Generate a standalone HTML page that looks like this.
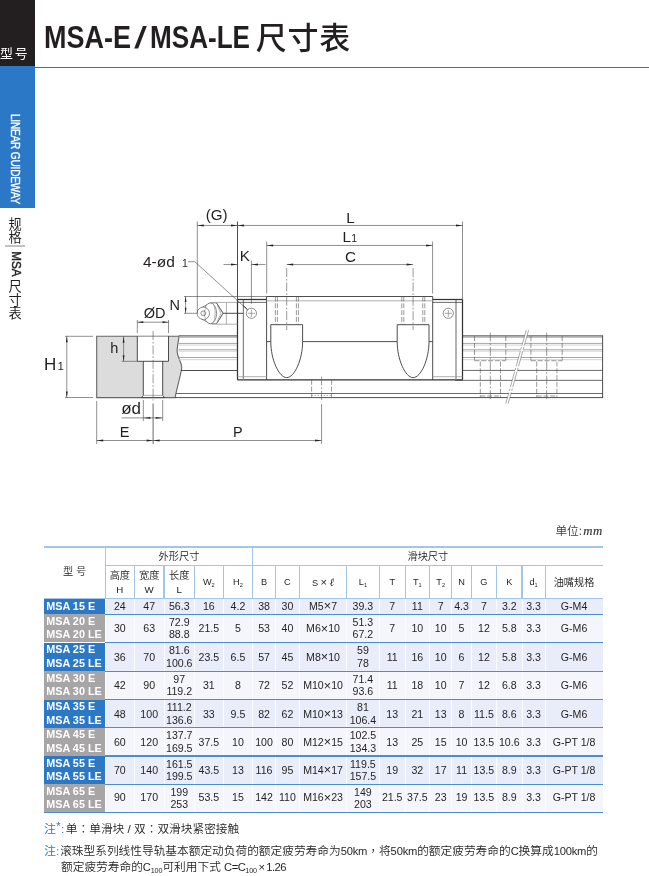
<!DOCTYPE html>
<html lang="zh-CN"><head><meta charset="utf-8"><title>MSA-E / MSA-LE 尺寸表</title>
<style>
html,body{margin:0;padding:0;background:#fff;}
body{width:649px;height:876px;position:relative;overflow:hidden;font-family:"Liberation Sans","Noto Sans CJK SC",sans-serif;color:#231f20;}
.abs{position:absolute;}
#sb-black{left:0;top:0;width:34.6px;height:66.4px;background:#231f20;}
#sb-blue{left:0;top:66.4px;width:34.6px;height:142.0px;background:#2b78c7;}
#rule{left:34px;top:66.5px;width:615px;height:1.7px;background:#2b78c7;}
#xh{left:0.1px;top:44.2px;color:#fff;font-size:12.9px;letter-spacing:1.7px;font-family:"Noto Sans CJK SC",sans-serif;line-height:18px;white-space:nowrap;}
#lg{left:15px;top:158.8px;width:0;height:0;}
#lg span{position:absolute;left:-60px;top:-8px;width:120px;height:16px;line-height:16px;text-align:center;color:#fff;font-size:12px;font-weight:normal;-webkit-text-stroke:0.35px #fff;white-space:nowrap;transform:rotate(90deg) scaleX(0.838);letter-spacing:-0.2px;}
#title{left:43.5px;top:15.6px;height:44px;line-height:44px;white-space:nowrap;font-size:30.8px;}
#title span{position:absolute;top:0;display:block;font-weight:bold;transform-origin:0 50%;}
#title .t1{left:0;transform:scaleX(0.876);}
#title .t2{left:92.6px;transform:scaleX(1.1) skewX(-9deg);font-weight:bold;font-size:30.5px;top:-0.8px;}
#title .t3{left:106px;transform:scaleX(0.847);}
#title .cjk{left:212.3px;top:-2.0px;font-family:"Noto Sans CJK SC",sans-serif;font-weight:500;font-size:31px;letter-spacing:0.7px;}
.vt{font-family:"Noto Sans CJK SC",sans-serif;font-size:13px;line-height:13.1px;width:14px;text-align:center;left:8px;color:#231f20;}
#vline{left:4.8px;top:245.45px;width:20.5px;height:1.2px;background:#c2c2c2;}
#msa{left:15.6px;top:263.8px;width:0;height:0;}
#msa span{position:absolute;left:-20px;top:-8px;width:40px;height:16px;line-height:16px;text-align:center;font-size:13px;font-weight:normal;-webkit-text-stroke:0.45px #231f20;transform:rotate(90deg) scaleX(0.9);}
svg text{font-family:"Liberation Sans",sans-serif;fill:#231f20;}
.k{stroke:#3a3a3a;stroke-width:0.9;}
.t2{stroke:#3a3a3a;stroke-width:0.75;}
.g3{stroke:#8a8a8a;stroke-width:1.3;}
.r0{stroke:#666;stroke-width:1.1;}
.r1{stroke:#9c9c9c;stroke-width:0.9;}
.r2{stroke:#cfcfcf;stroke-width:0.9;}
.kk{stroke:#333;stroke-width:1.25;}
.t{stroke:#444;stroke-width:0.6;}
.g{stroke:#9c9c9c;stroke-width:0.8;}
.d{stroke:#555;stroke-width:0.6;stroke-dasharray:5 1.8;}
.c{stroke:#555;stroke-width:0.6;stroke-dasharray:9 1.8 1.8 1.8;}
.ch{stroke:#555;stroke-width:0.5;}
.bl{stroke:#555;stroke-width:0.5;stroke-dasharray:16 1.5 2.5 1.5;}
.dd{stroke:#777;stroke-width:0.6;stroke-dasharray:1.5 1.5;}
.c2{stroke:#555;stroke-width:0.6;stroke-dasharray:12 1.8 1.8 1.8;}
.a{fill:#222;stroke:none;}
.gb{fill:#dcdcdc;stroke:#666;stroke-width:1.1;}
#unit{right:46.2px;top:520.8px;font-weight:350;font-size:11.7px;line-height:18px;font-family:"Noto Sans CJK SC",sans-serif;color:#3a3a3a;white-space:nowrap;}
#unit i{font-family:"Liberation Serif",serif;font-size:12.8px;letter-spacing:0.5px;font-weight:normal;-webkit-text-stroke:0.18px #333;margin-left:-1.2px;}
#tbl div{position:absolute;box-sizing:border-box;}
.ln.lb{background:#a3c5ea;}
.ln.lb2{background:#4a8dd2;}
.ln.lw{background:#fbfcff;}
.hc{text-align:center;font-size:9.2px;color:#231f20;white-space:nowrap;}
.hc.cj{font-family:"Liberation Sans","Noto Sans CJK SC",sans-serif;font-size:10.2px;font-weight:350;color:#1a1a1a;}
.hc.h2{line-height:14.6px;padding-top:3.2px;}
.hc i{font-style:normal;font-size:9.7px;}
.hc em{font-family:"Liberation Serif",serif;font-style:italic;font-size:11px;}
.hc sub{font-size:5.6px;vertical-align:-1.8px;line-height:0;}
.rb{background:#e8edf9;}
.rg{background:#f5f6fb;}
.nm{color:#fff;font-weight:bold;font-size:10.8px;line-height:13.4px;padding-left:2.6px;white-space:nowrap;display:flex;align-items:center;}
.nb{background:#2b78c7;}
.ng{background:#a7a5a6;}
.dc{text-align:center;font-size:10.6px;white-space:nowrap;color:#231f20;}
.dc .x{font-size:12.6px;line-height:0;position:relative;top:0.4px;}
.dc.two{line-height:12.6px;display:flex;align-items:center;justify-content:center;}
.note{font-family:"Liberation Sans","Noto Sans CJK SC",sans-serif;font-size:11.7px;line-height:16.6px;white-space:nowrap;color:#231f20;font-weight:350;}
.note .tc{font-family:"Noto Sans CJK TC","Noto Sans CJK JP",sans-serif;}
.note .la{font-weight:normal;letter-spacing:-0.2px;font-size:11.2px;}
.note .lb3{letter-spacing:-0.5px;word-spacing:-1px;}
.note .g1{display:inline-block;width:1.6px;}
.note .g2{display:inline-block;width:1px;}
.note b{font-weight:normal;color:#2b78c7;}
.note sub{font-size:7.2px;vertical-align:-2.4px;line-height:0;font-weight:normal;letter-spacing:-0.1px;}
.note sup{font-size:11px;vertical-align:3px;margin:0 0.4px;line-height:0;color:#2b78c7;font-weight:normal;}
#wrap{position:absolute;left:0;top:0;width:649px;height:876px;will-change:transform;}
</style></head><body>
<div id="wrap">
<div class="abs" id="sb-black"></div>
<div class="abs" id="sb-blue"></div>
<div class="abs" id="rule"></div>
<div class="abs" id="xh">型号</div>
<div class="abs" id="lg"><span>LINEAR GUIDEWAY</span></div>
<div class="abs" id="title"><span class="t1">MSA-E</span><span class="t2">/</span><span class="t3">MSA-LE</span><span class="cjk">尺寸表</span></div>
<div class="abs vt" style="top:217.0px;line-height:13.3px;font-size:13.2px;">规<br>格</div>
<div class="abs" id="vline"></div>
<div class="abs" id="msa"><span>MSA</span></div>
<div class="abs vt" style="top:279.0px;line-height:13.5px;font-size:13.2px;">尺<br>寸<br>表</div>
<svg class="abs" style="left:0;top:0" width="649" height="876" viewBox="0 0 649 876">
<path class="gb" d="M96.7,336.2 L179,336.2 C178.5,342 176.8,347 177.2,352 C177.6,358 181.5,362 181.8,367.3 C181.5,372 177,388 175,397.6 L96.7,397.6 Z"/>
<rect x="137.3" y="336.7" width="31.2" height="24.600000000000023" fill="#fff"/>
<path d="M143.3,361.3 L162.7,361.3 L162.7,395.4 L164.7,397.6 L141.4,397.6 L143.3,395.4 Z" fill="#fff"/>
<path class="k" fill="none" d="M137.3,336.2 L137.3,361.3 L168.5,361.3 L168.5,336.2"/>
<path class="k" fill="none" d="M143.3,361.3 L143.3,395.4 L141.4,397.6 M162.7,361.3 L162.7,395.4 L164.7,397.6"/>
<line class="g" x1="143.3" y1="395.4" x2="162.7" y2="395.4"/>
<line class="k" x1="141.4" y1="397.6" x2="164.7" y2="397.6"/>
<line class="r0" x1="178.6" y1="335.9" x2="237.5" y2="335.9"/>
<line class="r1" x1="178.6" y1="337.2" x2="237.5" y2="337.2"/>
<line class="r1" x1="178.6" y1="343.4" x2="237.5" y2="343.4"/>
<line class="r2" x1="178.6" y1="345.1" x2="237.5" y2="345.1"/>
<line class="r1" x1="178.6" y1="349.75" x2="237.5" y2="349.75"/>
<line class="r2" x1="178.6" y1="351.2" x2="237.5" y2="351.2"/>
<line class="r1" x1="178.6" y1="357.5" x2="237.5" y2="357.5"/>
<line class="r2" x1="178.6" y1="359.7" x2="237.5" y2="359.7"/>
<line class="k" x1="181" y1="370.5" x2="237.5" y2="370.5"/>
<line class="t2" x1="176" y1="393.5" x2="602.6" y2="393.5"/>
<line class="k" x1="175" y1="397.6" x2="602.6" y2="397.6"/>
<line class="r0" x1="462.5" y1="335.9" x2="602.6" y2="335.9"/>
<line class="r1" x1="462.5" y1="337.2" x2="602.6" y2="337.2"/>
<line class="r1" x1="462.5" y1="343.4" x2="602.6" y2="343.4"/>
<line class="r2" x1="462.5" y1="345.1" x2="602.6" y2="345.1"/>
<line class="r1" x1="462.5" y1="349.75" x2="602.6" y2="349.75"/>
<line class="r2" x1="462.5" y1="351.2" x2="602.6" y2="351.2"/>
<line class="r1" x1="462.5" y1="357.5" x2="602.6" y2="357.5"/>
<line class="r2" x1="462.5" y1="359.7" x2="602.6" y2="359.7"/>
<line class="t2" x1="462.5" y1="370.4" x2="602.6" y2="370.4"/>
<line class="t2" x1="455" y1="380.35" x2="602.6" y2="380.35"/>
<line class="k" x1="602.6" y1="335.4" x2="602.6" y2="398.1"/>
<path class="k" fill="none" d="M266.6,379.8 L266.6,296.5 L432.7,296.5 L432.7,379.8"/>
<line class="g" x1="266.6" y1="300.8" x2="432.7" y2="300.8"/>
<line class="kk" x1="237.5" y1="379.8" x2="462.5" y2="379.8"/>
<line class="kk" x1="237.5" y1="299.5" x2="237.5" y2="379.8"/>
<line class="g3" x1="243.4" y1="299.5" x2="243.4" y2="379.8"/>
<line class="kk" x1="237.5" y1="299.5" x2="266.6" y2="299.5"/>
<line class="t2" x1="237.5" y1="302.4" x2="266.6" y2="302.4"/>
<line class="g" x1="237.5" y1="376.7" x2="266.6" y2="376.7"/>
<line class="kk" x1="462.5" y1="299.5" x2="462.5" y2="379.8"/>
<line class="g3" x1="456.0" y1="299.5" x2="456.0" y2="379.8"/>
<line class="kk" x1="432.7" y1="299.5" x2="462.5" y2="299.5"/>
<line class="t2" x1="432.7" y1="302.4" x2="462.5" y2="302.4"/>
<line class="g" x1="432.7" y1="376.7" x2="462.5" y2="376.7"/>
<line class="k" x1="266.6" y1="341.6" x2="270.8" y2="341.6"/>
<line class="k" x1="302.7" y1="341.6" x2="397.3" y2="341.6"/>
<line class="k" x1="429.0" y1="341.6" x2="432.7" y2="341.6"/>
<path class="k" fill="#fff" d="M270.8,341.6 L270.8,324.7 L302.59999999999997,324.7 L302.59999999999997,341.6 C302.59999999999997,359.5 294.5,377.6 286.7,377.6 C278.9,377.6 270.8,359.5 270.8,341.6"/>
<line class="d" x1="275.4" y1="296.5" x2="275.4" y2="324.7"/>
<line class="d" x1="277.4" y1="296.5" x2="277.4" y2="324.7"/>
<line class="d" x1="296.4" y1="296.5" x2="296.4" y2="324.7"/>
<line class="d" x1="298.4" y1="296.5" x2="298.4" y2="324.7"/>
<line class="c" x1="286.7" y1="268" x2="286.7" y2="330"/>
<path class="k" fill="#fff" d="M397.20000000000005,341.6 L397.20000000000005,324.7 L429.0,324.7 L429.0,341.6 C429.0,359.5 420.90000000000003,377.6 413.1,377.6 C405.3,377.6 397.20000000000005,359.5 397.20000000000005,341.6"/>
<line class="d" x1="401.8" y1="296.5" x2="401.8" y2="324.7"/>
<line class="d" x1="403.8" y1="296.5" x2="403.8" y2="324.7"/>
<line class="d" x1="422.8" y1="296.5" x2="422.8" y2="324.7"/>
<line class="d" x1="424.8" y1="296.5" x2="424.8" y2="324.7"/>
<line class="c" x1="413.1" y1="268" x2="413.1" y2="330"/>
<circle class="t" fill="#fff" cx="251.4" cy="313.3" r="5.1"/>
<line class="ch" x1="247.8" y1="313.3" x2="255.0" y2="313.3"/>
<line class="ch" x1="251.4" y1="309.7" x2="251.4" y2="316.9"/>
<circle class="t" fill="#fff" cx="448.3" cy="313.3" r="5.1"/>
<line class="ch" x1="444.7" y1="313.3" x2="451.90000000000003" y2="313.3"/>
<line class="ch" x1="448.3" y1="309.7" x2="448.3" y2="316.9"/>
<path class="t" fill="#fff" d="M202.2,307.2 L210.5,302.90000000000003 L216.5,302.90000000000003 L223.1,313.3 L216.5,323.7 L210.5,323.7 L202.2,319.40000000000003 Z"/>
<ellipse class="t" fill="#fff" cx="210.3" cy="313.3" rx="6.3" ry="10.4"/>
<path class="g" fill="none" d="M213.2,303.90000000000003 C215.8,308.3 215.8,318.3 213.2,322.7"/>
<path class="t" fill="none" d="M216.5,302.90000000000003 L223.1,313.3 L216.5,323.7"/>
<path class="g" fill="none" d="M217.3,305.1 L221.0,313.3 L217.3,321.5"/>
<circle class="t" fill="#fff" cx="203.3" cy="313.3" r="6.2"/>
<path class="g" fill="none" d="M206.2,307.90000000000003 C203.4,310.8 203.4,315.8 206.2,318.7"/>
<circle class="t" fill="none" cx="203.3" cy="313.3" r="2.4"/>
<line class="g" x1="212" y1="302.40000000000003" x2="237.5" y2="302.40000000000003"/>
<line class="g" x1="212" y1="324.2" x2="237.5" y2="324.2"/>
<line class="g" x1="226.4" y1="302.40000000000003" x2="226.4" y2="324.2"/>
<line class="k" x1="223.1" y1="313.3" x2="243.4" y2="313.3"/>
<line class="d" x1="311.6" y1="379.8" x2="311.6" y2="397.6"/>
<line class="d" x1="331.6" y1="379.8" x2="331.6" y2="397.6"/>
<line class="dd" x1="311.6" y1="395.4" x2="331.6" y2="395.4"/>
<line class="c" x1="321.6" y1="376.5" x2="321.6" y2="401"/>
<line class="t" x1="321.6" y1="404" x2="321.6" y2="444"/>
<line class="d" x1="474.5" y1="336.2" x2="474.5" y2="360.5"/>
<line class="d" x1="505.8" y1="336.2" x2="505.8" y2="360.5"/>
<line class="d" x1="474.5" y1="360.7" x2="505.8" y2="360.7"/>
<line class="d" x1="480.3" y1="361.5" x2="480.3" y2="397.6"/>
<line class="d" x1="500.5" y1="361.5" x2="500.5" y2="397.6"/>
<line class="c" x1="490.3" y1="332.5" x2="490.3" y2="401"/>
<line class="d" x1="480.3" y1="396" x2="500.3" y2="396"/>
<line class="d" x1="530.9000000000001" y1="336.2" x2="530.9000000000001" y2="360.5"/>
<line class="d" x1="562.2" y1="336.2" x2="562.2" y2="360.5"/>
<line class="d" x1="530.9000000000001" y1="360.7" x2="562.2" y2="360.7"/>
<line class="d" x1="536.7" y1="361.5" x2="536.7" y2="397.6"/>
<line class="d" x1="556.9000000000001" y1="361.5" x2="556.9000000000001" y2="397.6"/>
<line class="c" x1="546.7" y1="332.5" x2="546.7" y2="401"/>
<line class="d" x1="536.7" y1="396" x2="556.7" y2="396"/>
<path d="M526.2,330.2 L505.8,403.5 L508.2,403.5 L528.6,330.2 Z" fill="#fff"/>
<line class="bl" x1="526.2" y1="330.2" x2="505.8" y2="403.5"/>
<line class="bl" x1="528.6" y1="330.2" x2="508.2" y2="403.5"/>
<line class="c" x1="153.1" y1="331" x2="153.1" y2="400.5"/>
<line class="t2" x1="153.1" y1="403.5" x2="153.1" y2="444"/>
<line class="t" x1="197.3" y1="221.5" x2="197.3" y2="313.4"/>
<line class="k" x1="237.5" y1="221.5" x2="237.5" y2="299.5"/>
<line class="t" x1="462.5" y1="221.5" x2="462.5" y2="299.5"/>
<line class="t" x1="197.3" y1="225.45" x2="462.5" y2="225.45"/>
<polygon class="a" points="197.30,225.45 203.80,224.50 203.80,226.40"/>
<polygon class="a" points="237.50,225.45 231.00,226.40 231.00,224.50"/>
<polygon class="a" points="237.50,225.45 244.00,224.50 244.00,226.40"/>
<polygon class="a" points="462.50,225.45 456.00,226.40 456.00,224.50"/>
<text x="216.7" y="219.9" font-size="15.2" text-anchor="middle">(G)</text>
<text x="350.5" y="223.1" font-size="15.2" text-anchor="middle">L</text>
<line class="t" x1="266.7" y1="241.5" x2="266.7" y2="293.5"/>
<line class="t" x1="432.6" y1="241.5" x2="432.6" y2="293.5"/>
<line class="t" x1="266.7" y1="245.45" x2="432.6" y2="245.45"/>
<polygon class="a" points="266.70,245.45 273.20,244.50 273.20,246.40"/>
<polygon class="a" points="432.60,245.45 426.10,246.40 426.10,244.50"/>
<text x="342.6" y="242.0" font-size="15.2" text-anchor="start">L</text>
<text x="351.3" y="242.0" font-size="10.5" text-anchor="start">1</text>
<line class="t" x1="286.7" y1="264.55" x2="413.1" y2="264.55"/>
<polygon class="a" points="286.70,264.55 293.20,263.60 293.20,265.50"/>
<polygon class="a" points="413.10,264.55 406.60,265.50 406.60,263.60"/>
<text x="350.5" y="261.9" font-size="15.2" text-anchor="middle">C</text>
<line class="t" x1="251.4" y1="260.5" x2="251.4" y2="303.8"/>
<line class="t" x1="223.5" y1="264.55" x2="237.5" y2="264.55"/>
<line class="t" x1="251.4" y1="264.55" x2="265.5" y2="264.55"/>
<polygon class="a" points="237.50,264.55 231.00,265.50 231.00,263.60"/>
<polygon class="a" points="251.40,264.55 257.90,263.60 257.90,265.50"/>
<text x="244.7" y="261.3" font-size="15.2" text-anchor="middle">K</text>
<line class="t" x1="184" y1="296.5" x2="266.6" y2="296.5"/>
<line class="t" x1="184" y1="313.3" x2="197.1" y2="313.3"/>
<line class="t" x1="185.6" y1="296.5" x2="185.6" y2="313.3"/>
<polygon class="a" points="185.60,296.50 186.45,302.00 184.75,302.00"/>
<polygon class="a" points="185.60,313.30 184.75,307.80 186.45,307.80"/>
<text x="174.7" y="310.2" font-size="14.5" text-anchor="middle">N</text>
<text x="143.0" y="267.4" font-size="15.5" text-anchor="start">4-ød</text>
<text x="182.0" y="267.4" font-size="10.5" text-anchor="start">1</text>
<path class="t" fill="none" d="M188,261.7 L194.8,261.7 L247.6,309.8"/>
<line class="k" x1="243.2" y1="305.6" x2="247.6" y2="309.8"/>
<line class="t" x1="137.3" y1="320" x2="137.3" y2="333"/>
<line class="t" x1="168.5" y1="320" x2="168.5" y2="333"/>
<line class="t" x1="137.3" y1="322.2" x2="168.5" y2="322.2"/>
<polygon class="a" points="137.30,322.20 143.30,321.30 143.30,323.10"/>
<polygon class="a" points="168.50,322.20 162.50,323.10 162.50,321.30"/>
<text x="154.7" y="318.4" font-size="14.5" text-anchor="middle">ØD</text>
<line class="t" x1="123.6" y1="336.2" x2="123.6" y2="361.3"/>
<line class="t" x1="121.5" y1="361.3" x2="137.3" y2="361.3"/>
<polygon class="a" points="123.60,336.70 124.50,342.70 122.70,342.70"/>
<polygon class="a" points="123.60,361.30 122.70,355.30 124.50,355.30"/>
<text x="114.2" y="353.3" font-size="14.5" text-anchor="middle">h</text>
<line class="t" x1="65" y1="336.3" x2="93" y2="336.3"/>
<line class="t" x1="65" y1="397.5" x2="93" y2="397.5"/>
<line class="t" x1="66.8" y1="336.3" x2="66.8" y2="397.5"/>
<polygon class="a" points="66.80,336.30 67.70,342.30 65.90,342.30"/>
<polygon class="a" points="66.80,397.50 65.90,391.50 67.70,391.50"/>
<text x="44.1" y="369.5" font-size="17" text-anchor="start">H</text>
<text x="57.4" y="369.5" font-size="11.5" text-anchor="start">1</text>
<line class="t" x1="143.3" y1="400" x2="143.3" y2="421"/>
<line class="t" x1="162.7" y1="400" x2="162.7" y2="421"/>
<line class="t" x1="121.5" y1="417.9" x2="162.7" y2="417.9"/>
<polygon class="a" points="143.30,417.90 150.30,417.00 150.30,418.80"/>
<polygon class="a" points="162.70,417.90 155.70,418.80 155.70,417.00"/>
<text x="121.2" y="413.6" font-size="17" text-anchor="start">ød</text>
<line class="t" x1="96.7" y1="401" x2="96.7" y2="444"/>
<line class="t" x1="96.7" y1="440.5" x2="321.6" y2="440.5"/>
<polygon class="a" points="96.70,440.50 103.20,439.55 103.20,441.45"/>
<polygon class="a" points="153.10,440.50 146.60,441.45 146.60,439.55"/>
<polygon class="a" points="153.10,440.50 159.60,439.55 159.60,441.45"/>
<polygon class="a" points="321.60,440.50 315.10,441.45 315.10,439.55"/>
<text x="124.7" y="436.7" font-size="14.5" text-anchor="middle">E</text>
<text x="237.8" y="436.7" font-size="14.5" text-anchor="middle">P</text>
</svg>
<div class="abs" id="unit">单位: <i>mm</i></div>
<div id="tbl">
<div class="ln lb" style="left:43.7px;top:546.2px;width:559.3px;height:1.8px;"></div>
<div class="ln lb" style="left:105.3px;top:565.0px;width:497.7px;height:1.2px;"></div>
<div class="ln lb" style="left:104.7px;top:547.1px;width:1.2px;height:51.9px;"></div>
<div class="ln lb" style="left:252.1px;top:547.1px;width:1.2px;height:51.9px;"></div>
<div class="ln lb" style="left:133.8px;top:565.6px;width:1.2px;height:33.4px;"></div>
<div class="ln lb" style="left:163.4px;top:565.6px;width:1.2px;height:33.4px;"></div>
<div class="ln lb" style="left:193.9px;top:565.6px;width:1.2px;height:33.4px;"></div>
<div class="ln lb" style="left:222.6px;top:565.6px;width:1.2px;height:33.4px;"></div>
<div class="ln lb" style="left:274.8px;top:565.6px;width:1.2px;height:33.4px;"></div>
<div class="ln lb" style="left:298.9px;top:565.6px;width:1.2px;height:33.4px;"></div>
<div class="ln lb" style="left:346.0px;top:565.6px;width:1.2px;height:33.4px;"></div>
<div class="ln lb" style="left:378.6px;top:565.6px;width:1.2px;height:33.4px;"></div>
<div class="ln lb" style="left:404.6px;top:565.6px;width:1.2px;height:33.4px;"></div>
<div class="ln lb" style="left:428.9px;top:565.6px;width:1.2px;height:33.4px;"></div>
<div class="ln lb" style="left:451.3px;top:565.6px;width:1.2px;height:33.4px;"></div>
<div class="ln lb" style="left:470.6px;top:565.6px;width:1.2px;height:33.4px;"></div>
<div class="ln lb" style="left:496.0px;top:565.6px;width:1.2px;height:33.4px;"></div>
<div class="ln lb" style="left:521.4px;top:565.6px;width:1.2px;height:33.4px;"></div>
<div class="ln lb" style="left:544.5px;top:565.6px;width:1.2px;height:33.4px;"></div>
<div class="hc cj" style="left:43.7px;top:547.1px;width:61.6px;height:51.9px;line-height:49.9px">型 号</div>
<div class="hc cj" style="left:105.3px;top:547.1px;width:147.4px;height:18.5px;line-height:19.5px">外形尺寸</div>
<div class="hc cj" style="left:252.7px;top:547.1px;width:350.3px;height:18.5px;line-height:19.5px">滑块尺寸</div>
<div class="hc cj h2" style="left:105.3px;top:565.6px;width:29.1px;height:33.4px;">高度<br><i>H</i></div>
<div class="hc cj h2" style="left:134.4px;top:565.6px;width:29.6px;height:33.4px;">宽度<br><i>W</i></div>
<div class="hc cj h2" style="left:164.0px;top:565.6px;width:30.5px;height:33.4px;">长度<br><i>L</i></div>
<div class="hc" style="left:194.5px;top:565.6px;width:28.7px;height:33.4px;line-height:33.4px">W<sub>2</sub></div>
<div class="hc" style="left:223.2px;top:565.6px;width:29.5px;height:33.4px;line-height:33.4px">H<sub>2</sub></div>
<div class="hc" style="left:252.7px;top:565.6px;width:22.7px;height:33.4px;line-height:33.4px">B</div>
<div class="hc" style="left:275.4px;top:565.6px;width:24.1px;height:33.4px;line-height:33.4px">C</div>
<div class="hc" style="left:299.5px;top:565.6px;width:47.1px;height:33.4px;line-height:33.4px">S <span style="font-size:11px;line-height:0">×</span> <em>ℓ</em></div>
<div class="hc" style="left:346.6px;top:565.6px;width:32.6px;height:33.4px;line-height:33.4px">L<sub>1</sub></div>
<div class="hc" style="left:379.2px;top:565.6px;width:26.0px;height:33.4px;line-height:33.4px">T</div>
<div class="hc" style="left:405.2px;top:565.6px;width:24.3px;height:33.4px;line-height:33.4px">T<sub>1</sub></div>
<div class="hc" style="left:429.5px;top:565.6px;width:22.4px;height:33.4px;line-height:33.4px">T<sub>2</sub></div>
<div class="hc" style="left:451.9px;top:565.6px;width:19.3px;height:33.4px;line-height:33.4px">N</div>
<div class="hc" style="left:471.2px;top:565.6px;width:25.4px;height:33.4px;line-height:33.4px">G</div>
<div class="hc" style="left:496.6px;top:565.6px;width:25.4px;height:33.4px;line-height:33.4px">K</div>
<div class="hc" style="left:522.0px;top:565.6px;width:23.1px;height:33.4px;line-height:33.4px">d<sub>1</sub></div>
<div class="hc cj" style="left:545.1px;top:565.6px;width:57.9px;height:33.4px;line-height:33.4px">油嘴规格</div>
<div class="rowbg rb" style="left:43.7px;top:599.0px;width:559.3px;height:15.4px;"></div>
<div class="nm nb" style="left:43.7px;top:599.0px;width:61.6px;height:15.4px;">MSA 15 E</div>
<div class="dc" style="left:105.3px;top:599.0px;width:29.1px;height:15.4px;line-height:15.4px">24</div>
<div class="dc" style="left:134.4px;top:599.0px;width:29.6px;height:15.4px;line-height:15.4px">47</div>
<div class="dc" style="left:164.0px;top:599.0px;width:30.5px;height:15.4px;line-height:15.4px">56.3</div>
<div class="dc" style="left:194.5px;top:599.0px;width:28.7px;height:15.4px;line-height:15.4px">16</div>
<div class="dc" style="left:223.2px;top:599.0px;width:29.5px;height:15.4px;line-height:15.4px">4.2</div>
<div class="dc" style="left:252.7px;top:599.0px;width:22.7px;height:15.4px;line-height:15.4px">38</div>
<div class="dc" style="left:275.4px;top:599.0px;width:24.1px;height:15.4px;line-height:15.4px">30</div>
<div class="dc" style="left:299.5px;top:599.0px;width:47.1px;height:15.4px;line-height:15.4px">M5<span class="x">×</span>7</div>
<div class="dc" style="left:346.6px;top:599.0px;width:32.6px;height:15.4px;line-height:15.4px">39.3</div>
<div class="dc" style="left:379.2px;top:599.0px;width:26.0px;height:15.4px;line-height:15.4px">7</div>
<div class="dc" style="left:405.2px;top:599.0px;width:24.3px;height:15.4px;line-height:15.4px">11</div>
<div class="dc" style="left:429.5px;top:599.0px;width:22.4px;height:15.4px;line-height:15.4px">7</div>
<div class="dc" style="left:451.9px;top:599.0px;width:19.3px;height:15.4px;line-height:15.4px">4.3</div>
<div class="dc" style="left:471.2px;top:599.0px;width:25.4px;height:15.4px;line-height:15.4px">7</div>
<div class="dc" style="left:496.6px;top:599.0px;width:25.4px;height:15.4px;line-height:15.4px">3.2</div>
<div class="dc" style="left:522.0px;top:599.0px;width:23.1px;height:15.4px;line-height:15.4px">3.3</div>
<div class="dc" style="left:545.1px;top:599.0px;width:57.9px;height:15.4px;line-height:15.4px">G-M4</div>
<div class="rowbg rg" style="left:43.7px;top:614.4px;width:559.3px;height:28.1px;"></div>
<div class="nm ng" style="left:43.7px;top:614.4px;width:61.6px;height:28.1px;">MSA 20 E<br>MSA 20 LE</div>
<div class="dc" style="left:105.3px;top:614.4px;width:29.1px;height:28.1px;line-height:28.1px">30</div>
<div class="dc" style="left:134.4px;top:614.4px;width:29.6px;height:28.1px;line-height:28.1px">63</div>
<div class="dc two" style="left:164.0px;top:614.4px;width:30.5px;height:28.1px;">72.9<br>88.8</div>
<div class="dc" style="left:194.5px;top:614.4px;width:28.7px;height:28.1px;line-height:28.1px">21.5</div>
<div class="dc" style="left:223.2px;top:614.4px;width:29.5px;height:28.1px;line-height:28.1px">5</div>
<div class="dc" style="left:252.7px;top:614.4px;width:22.7px;height:28.1px;line-height:28.1px">53</div>
<div class="dc" style="left:275.4px;top:614.4px;width:24.1px;height:28.1px;line-height:28.1px">40</div>
<div class="dc" style="left:299.5px;top:614.4px;width:47.1px;height:28.1px;line-height:28.1px">M6<span class="x">×</span>10</div>
<div class="dc two" style="left:346.6px;top:614.4px;width:32.6px;height:28.1px;">51.3<br>67.2</div>
<div class="dc" style="left:379.2px;top:614.4px;width:26.0px;height:28.1px;line-height:28.1px">7</div>
<div class="dc" style="left:405.2px;top:614.4px;width:24.3px;height:28.1px;line-height:28.1px">10</div>
<div class="dc" style="left:429.5px;top:614.4px;width:22.4px;height:28.1px;line-height:28.1px">10</div>
<div class="dc" style="left:451.9px;top:614.4px;width:19.3px;height:28.1px;line-height:28.1px">5</div>
<div class="dc" style="left:471.2px;top:614.4px;width:25.4px;height:28.1px;line-height:28.1px">12</div>
<div class="dc" style="left:496.6px;top:614.4px;width:25.4px;height:28.1px;line-height:28.1px">5.8</div>
<div class="dc" style="left:522.0px;top:614.4px;width:23.1px;height:28.1px;line-height:28.1px">3.3</div>
<div class="dc" style="left:545.1px;top:614.4px;width:57.9px;height:28.1px;line-height:28.1px">G-M6</div>
<div class="rowbg rb" style="left:43.7px;top:642.5px;width:559.3px;height:28.7px;"></div>
<div class="nm nb" style="left:43.7px;top:642.5px;width:61.6px;height:28.7px;">MSA 25 E<br>MSA 25 LE</div>
<div class="dc" style="left:105.3px;top:642.5px;width:29.1px;height:28.7px;line-height:28.7px">36</div>
<div class="dc" style="left:134.4px;top:642.5px;width:29.6px;height:28.7px;line-height:28.7px">70</div>
<div class="dc two" style="left:164.0px;top:642.5px;width:30.5px;height:28.7px;">81.6<br>100.6</div>
<div class="dc" style="left:194.5px;top:642.5px;width:28.7px;height:28.7px;line-height:28.7px">23.5</div>
<div class="dc" style="left:223.2px;top:642.5px;width:29.5px;height:28.7px;line-height:28.7px">6.5</div>
<div class="dc" style="left:252.7px;top:642.5px;width:22.7px;height:28.7px;line-height:28.7px">57</div>
<div class="dc" style="left:275.4px;top:642.5px;width:24.1px;height:28.7px;line-height:28.7px">45</div>
<div class="dc" style="left:299.5px;top:642.5px;width:47.1px;height:28.7px;line-height:28.7px">M8<span class="x">×</span>10</div>
<div class="dc two" style="left:346.6px;top:642.5px;width:32.6px;height:28.7px;">59<br>78</div>
<div class="dc" style="left:379.2px;top:642.5px;width:26.0px;height:28.7px;line-height:28.7px">11</div>
<div class="dc" style="left:405.2px;top:642.5px;width:24.3px;height:28.7px;line-height:28.7px">16</div>
<div class="dc" style="left:429.5px;top:642.5px;width:22.4px;height:28.7px;line-height:28.7px">10</div>
<div class="dc" style="left:451.9px;top:642.5px;width:19.3px;height:28.7px;line-height:28.7px">6</div>
<div class="dc" style="left:471.2px;top:642.5px;width:25.4px;height:28.7px;line-height:28.7px">12</div>
<div class="dc" style="left:496.6px;top:642.5px;width:25.4px;height:28.7px;line-height:28.7px">5.8</div>
<div class="dc" style="left:522.0px;top:642.5px;width:23.1px;height:28.7px;line-height:28.7px">3.3</div>
<div class="dc" style="left:545.1px;top:642.5px;width:57.9px;height:28.7px;line-height:28.7px">G-M6</div>
<div class="rowbg rg" style="left:43.7px;top:671.2px;width:559.3px;height:28.4px;"></div>
<div class="nm ng" style="left:43.7px;top:671.2px;width:61.6px;height:28.4px;">MSA 30 E<br>MSA 30 LE</div>
<div class="dc" style="left:105.3px;top:671.2px;width:29.1px;height:28.4px;line-height:28.4px">42</div>
<div class="dc" style="left:134.4px;top:671.2px;width:29.6px;height:28.4px;line-height:28.4px">90</div>
<div class="dc two" style="left:164.0px;top:671.2px;width:30.5px;height:28.4px;">97<br>119.2</div>
<div class="dc" style="left:194.5px;top:671.2px;width:28.7px;height:28.4px;line-height:28.4px">31</div>
<div class="dc" style="left:223.2px;top:671.2px;width:29.5px;height:28.4px;line-height:28.4px">8</div>
<div class="dc" style="left:252.7px;top:671.2px;width:22.7px;height:28.4px;line-height:28.4px">72</div>
<div class="dc" style="left:275.4px;top:671.2px;width:24.1px;height:28.4px;line-height:28.4px">52</div>
<div class="dc" style="left:299.5px;top:671.2px;width:47.1px;height:28.4px;line-height:28.4px">M10<span class="x">×</span>10</div>
<div class="dc two" style="left:346.6px;top:671.2px;width:32.6px;height:28.4px;">71.4<br>93.6</div>
<div class="dc" style="left:379.2px;top:671.2px;width:26.0px;height:28.4px;line-height:28.4px">11</div>
<div class="dc" style="left:405.2px;top:671.2px;width:24.3px;height:28.4px;line-height:28.4px">18</div>
<div class="dc" style="left:429.5px;top:671.2px;width:22.4px;height:28.4px;line-height:28.4px">10</div>
<div class="dc" style="left:451.9px;top:671.2px;width:19.3px;height:28.4px;line-height:28.4px">7</div>
<div class="dc" style="left:471.2px;top:671.2px;width:25.4px;height:28.4px;line-height:28.4px">12</div>
<div class="dc" style="left:496.6px;top:671.2px;width:25.4px;height:28.4px;line-height:28.4px">6.8</div>
<div class="dc" style="left:522.0px;top:671.2px;width:23.1px;height:28.4px;line-height:28.4px">3.3</div>
<div class="dc" style="left:545.1px;top:671.2px;width:57.9px;height:28.4px;line-height:28.4px">G-M6</div>
<div class="rowbg rb" style="left:43.7px;top:699.6px;width:559.3px;height:28.2px;"></div>
<div class="nm nb" style="left:43.7px;top:699.6px;width:61.6px;height:28.2px;">MSA 35 E<br>MSA 35 LE</div>
<div class="dc" style="left:105.3px;top:699.6px;width:29.1px;height:28.2px;line-height:28.2px">48</div>
<div class="dc" style="left:134.4px;top:699.6px;width:29.6px;height:28.2px;line-height:28.2px">100</div>
<div class="dc two" style="left:164.0px;top:699.6px;width:30.5px;height:28.2px;">111.2<br>136.6</div>
<div class="dc" style="left:194.5px;top:699.6px;width:28.7px;height:28.2px;line-height:28.2px">33</div>
<div class="dc" style="left:223.2px;top:699.6px;width:29.5px;height:28.2px;line-height:28.2px">9.5</div>
<div class="dc" style="left:252.7px;top:699.6px;width:22.7px;height:28.2px;line-height:28.2px">82</div>
<div class="dc" style="left:275.4px;top:699.6px;width:24.1px;height:28.2px;line-height:28.2px">62</div>
<div class="dc" style="left:299.5px;top:699.6px;width:47.1px;height:28.2px;line-height:28.2px">M10<span class="x">×</span>13</div>
<div class="dc two" style="left:346.6px;top:699.6px;width:32.6px;height:28.2px;">81<br>106.4</div>
<div class="dc" style="left:379.2px;top:699.6px;width:26.0px;height:28.2px;line-height:28.2px">13</div>
<div class="dc" style="left:405.2px;top:699.6px;width:24.3px;height:28.2px;line-height:28.2px">21</div>
<div class="dc" style="left:429.5px;top:699.6px;width:22.4px;height:28.2px;line-height:28.2px">13</div>
<div class="dc" style="left:451.9px;top:699.6px;width:19.3px;height:28.2px;line-height:28.2px">8</div>
<div class="dc" style="left:471.2px;top:699.6px;width:25.4px;height:28.2px;line-height:28.2px">11.5</div>
<div class="dc" style="left:496.6px;top:699.6px;width:25.4px;height:28.2px;line-height:28.2px">8.6</div>
<div class="dc" style="left:522.0px;top:699.6px;width:23.1px;height:28.2px;line-height:28.2px">3.3</div>
<div class="dc" style="left:545.1px;top:699.6px;width:57.9px;height:28.2px;line-height:28.2px">G-M6</div>
<div class="rowbg rg" style="left:43.7px;top:727.8px;width:559.3px;height:28.2px;"></div>
<div class="nm ng" style="left:43.7px;top:727.8px;width:61.6px;height:28.2px;">MSA 45 E<br>MSA 45 LE</div>
<div class="dc" style="left:105.3px;top:727.8px;width:29.1px;height:28.2px;line-height:28.2px">60</div>
<div class="dc" style="left:134.4px;top:727.8px;width:29.6px;height:28.2px;line-height:28.2px">120</div>
<div class="dc two" style="left:164.0px;top:727.8px;width:30.5px;height:28.2px;">137.7<br>169.5</div>
<div class="dc" style="left:194.5px;top:727.8px;width:28.7px;height:28.2px;line-height:28.2px">37.5</div>
<div class="dc" style="left:223.2px;top:727.8px;width:29.5px;height:28.2px;line-height:28.2px">10</div>
<div class="dc" style="left:252.7px;top:727.8px;width:22.7px;height:28.2px;line-height:28.2px">100</div>
<div class="dc" style="left:275.4px;top:727.8px;width:24.1px;height:28.2px;line-height:28.2px">80</div>
<div class="dc" style="left:299.5px;top:727.8px;width:47.1px;height:28.2px;line-height:28.2px">M12<span class="x">×</span>15</div>
<div class="dc two" style="left:346.6px;top:727.8px;width:32.6px;height:28.2px;">102.5<br>134.3</div>
<div class="dc" style="left:379.2px;top:727.8px;width:26.0px;height:28.2px;line-height:28.2px">13</div>
<div class="dc" style="left:405.2px;top:727.8px;width:24.3px;height:28.2px;line-height:28.2px">25</div>
<div class="dc" style="left:429.5px;top:727.8px;width:22.4px;height:28.2px;line-height:28.2px">15</div>
<div class="dc" style="left:451.9px;top:727.8px;width:19.3px;height:28.2px;line-height:28.2px">10</div>
<div class="dc" style="left:471.2px;top:727.8px;width:25.4px;height:28.2px;line-height:28.2px">13.5</div>
<div class="dc" style="left:496.6px;top:727.8px;width:25.4px;height:28.2px;line-height:28.2px">10.6</div>
<div class="dc" style="left:522.0px;top:727.8px;width:23.1px;height:28.2px;line-height:28.2px">3.3</div>
<div class="dc" style="left:545.1px;top:727.8px;width:57.9px;height:28.2px;line-height:28.2px">G-PT 1/8</div>
<div class="rowbg rb" style="left:43.7px;top:756.0px;width:559.3px;height:28.2px;"></div>
<div class="nm nb" style="left:43.7px;top:756.0px;width:61.6px;height:28.2px;">MSA 55 E<br>MSA 55 LE</div>
<div class="dc" style="left:105.3px;top:756.0px;width:29.1px;height:28.2px;line-height:28.2px">70</div>
<div class="dc" style="left:134.4px;top:756.0px;width:29.6px;height:28.2px;line-height:28.2px">140</div>
<div class="dc two" style="left:164.0px;top:756.0px;width:30.5px;height:28.2px;">161.5<br>199.5</div>
<div class="dc" style="left:194.5px;top:756.0px;width:28.7px;height:28.2px;line-height:28.2px">43.5</div>
<div class="dc" style="left:223.2px;top:756.0px;width:29.5px;height:28.2px;line-height:28.2px">13</div>
<div class="dc" style="left:252.7px;top:756.0px;width:22.7px;height:28.2px;line-height:28.2px">116</div>
<div class="dc" style="left:275.4px;top:756.0px;width:24.1px;height:28.2px;line-height:28.2px">95</div>
<div class="dc" style="left:299.5px;top:756.0px;width:47.1px;height:28.2px;line-height:28.2px">M14<span class="x">×</span>17</div>
<div class="dc two" style="left:346.6px;top:756.0px;width:32.6px;height:28.2px;">119.5<br>157.5</div>
<div class="dc" style="left:379.2px;top:756.0px;width:26.0px;height:28.2px;line-height:28.2px">19</div>
<div class="dc" style="left:405.2px;top:756.0px;width:24.3px;height:28.2px;line-height:28.2px">32</div>
<div class="dc" style="left:429.5px;top:756.0px;width:22.4px;height:28.2px;line-height:28.2px">17</div>
<div class="dc" style="left:451.9px;top:756.0px;width:19.3px;height:28.2px;line-height:28.2px">11</div>
<div class="dc" style="left:471.2px;top:756.0px;width:25.4px;height:28.2px;line-height:28.2px">13.5</div>
<div class="dc" style="left:496.6px;top:756.0px;width:25.4px;height:28.2px;line-height:28.2px">8.9</div>
<div class="dc" style="left:522.0px;top:756.0px;width:23.1px;height:28.2px;line-height:28.2px">3.3</div>
<div class="dc" style="left:545.1px;top:756.0px;width:57.9px;height:28.2px;line-height:28.2px">G-PT 1/8</div>
<div class="rowbg rg" style="left:43.7px;top:784.2px;width:559.3px;height:27.9px;"></div>
<div class="nm ng" style="left:43.7px;top:784.2px;width:61.6px;height:27.9px;">MSA 65 E<br>MSA 65 LE</div>
<div class="dc" style="left:105.3px;top:784.2px;width:29.1px;height:27.9px;line-height:27.9px">90</div>
<div class="dc" style="left:134.4px;top:784.2px;width:29.6px;height:27.9px;line-height:27.9px">170</div>
<div class="dc two" style="left:164.0px;top:784.2px;width:30.5px;height:27.9px;">199<br>253</div>
<div class="dc" style="left:194.5px;top:784.2px;width:28.7px;height:27.9px;line-height:27.9px">53.5</div>
<div class="dc" style="left:223.2px;top:784.2px;width:29.5px;height:27.9px;line-height:27.9px">15</div>
<div class="dc" style="left:252.7px;top:784.2px;width:22.7px;height:27.9px;line-height:27.9px">142</div>
<div class="dc" style="left:275.4px;top:784.2px;width:24.1px;height:27.9px;line-height:27.9px">110</div>
<div class="dc" style="left:299.5px;top:784.2px;width:47.1px;height:27.9px;line-height:27.9px">M16<span class="x">×</span>23</div>
<div class="dc two" style="left:346.6px;top:784.2px;width:32.6px;height:27.9px;">149<br>203</div>
<div class="dc" style="left:379.2px;top:784.2px;width:26.0px;height:27.9px;line-height:27.9px">21.5</div>
<div class="dc" style="left:405.2px;top:784.2px;width:24.3px;height:27.9px;line-height:27.9px">37.5</div>
<div class="dc" style="left:429.5px;top:784.2px;width:22.4px;height:27.9px;line-height:27.9px">23</div>
<div class="dc" style="left:451.9px;top:784.2px;width:19.3px;height:27.9px;line-height:27.9px">19</div>
<div class="dc" style="left:471.2px;top:784.2px;width:25.4px;height:27.9px;line-height:27.9px">13.5</div>
<div class="dc" style="left:496.6px;top:784.2px;width:25.4px;height:27.9px;line-height:27.9px">8.9</div>
<div class="dc" style="left:522.0px;top:784.2px;width:23.1px;height:27.9px;line-height:27.9px">3.3</div>
<div class="dc" style="left:545.1px;top:784.2px;width:57.9px;height:27.9px;line-height:27.9px">G-PT 1/8</div>
<div class="ln lb" style="left:43.7px;top:598.0px;width:559.3px;height:1.2px;"></div>
<div class="ln lw" style="left:104.8px;top:599.0px;width:1.0px;height:213.1px;"></div>
<div class="ln lw" style="left:133.9px;top:599.0px;width:1.0px;height:213.1px;"></div>
<div class="ln lw" style="left:163.5px;top:599.0px;width:1.0px;height:213.1px;"></div>
<div class="ln lw" style="left:194.0px;top:599.0px;width:1.0px;height:213.1px;"></div>
<div class="ln lw" style="left:222.7px;top:599.0px;width:1.0px;height:213.1px;"></div>
<div class="ln lw" style="left:252.2px;top:599.0px;width:1.0px;height:213.1px;"></div>
<div class="ln lw" style="left:274.9px;top:599.0px;width:1.0px;height:213.1px;"></div>
<div class="ln lw" style="left:299.0px;top:599.0px;width:1.0px;height:213.1px;"></div>
<div class="ln lw" style="left:346.1px;top:599.0px;width:1.0px;height:213.1px;"></div>
<div class="ln lw" style="left:378.7px;top:599.0px;width:1.0px;height:213.1px;"></div>
<div class="ln lw" style="left:404.7px;top:599.0px;width:1.0px;height:213.1px;"></div>
<div class="ln lw" style="left:429.0px;top:599.0px;width:1.0px;height:213.1px;"></div>
<div class="ln lw" style="left:451.4px;top:599.0px;width:1.0px;height:213.1px;"></div>
<div class="ln lw" style="left:470.7px;top:599.0px;width:1.0px;height:213.1px;"></div>
<div class="ln lw" style="left:496.1px;top:599.0px;width:1.0px;height:213.1px;"></div>
<div class="ln lw" style="left:521.5px;top:599.0px;width:1.0px;height:213.1px;"></div>
<div class="ln lw" style="left:544.6px;top:599.0px;width:1.0px;height:213.1px;"></div>
<div class="ln lb2" style="left:105.3px;top:613.8px;width:497.7px;height:1.2px;"></div>
<div class="ln lb2" style="left:105.3px;top:641.9px;width:497.7px;height:1.2px;"></div>
<div class="ln lb2" style="left:105.3px;top:670.6px;width:497.7px;height:1.2px;"></div>
<div class="ln lb2" style="left:105.3px;top:699.0px;width:497.7px;height:1.2px;"></div>
<div class="ln lb2" style="left:105.3px;top:727.2px;width:497.7px;height:1.2px;"></div>
<div class="ln lb2" style="left:105.3px;top:755.4px;width:497.7px;height:1.2px;"></div>
<div class="ln lb2" style="left:105.3px;top:783.6px;width:497.7px;height:1.2px;"></div>
<div class="ln lb2" style="left:43.7px;top:811.5px;width:559.3px;height:1.2px;"></div>
</div>
<div class="abs note" style="left:44.2px;top:820.4px;"><b>注<sup>*</sup>:</b><span class="g1"></span>单<span class="tc" lang="zh-TW">：</span>单滑块 / 双<span class="tc" lang="zh-TW">：</span>双滑块紧密接触</div>
<div class="abs note" style="left:44.2px;top:842.2px;"><b>注:</b><span class="g2"></span>滚珠型系列线性导轨基本额定动负荷的额定疲劳寿命为<span class="la">50km</span><span class="tc" lang="zh-TW">，</span>将<span class="la">50km</span>的额定疲劳寿命的<span class="la">C</span>换算成<span class="la">100km</span>的</div>
<div class="abs note" style="left:61.0px;top:858.8px;">额定疲劳寿命的<span class="la">C</span><sub>100</sub>可利用下式 <span class="la lb3">C=C</span><sub>100</sub><span class="la lb3"> × 1.26</span></div>
</div>
</body></html>
